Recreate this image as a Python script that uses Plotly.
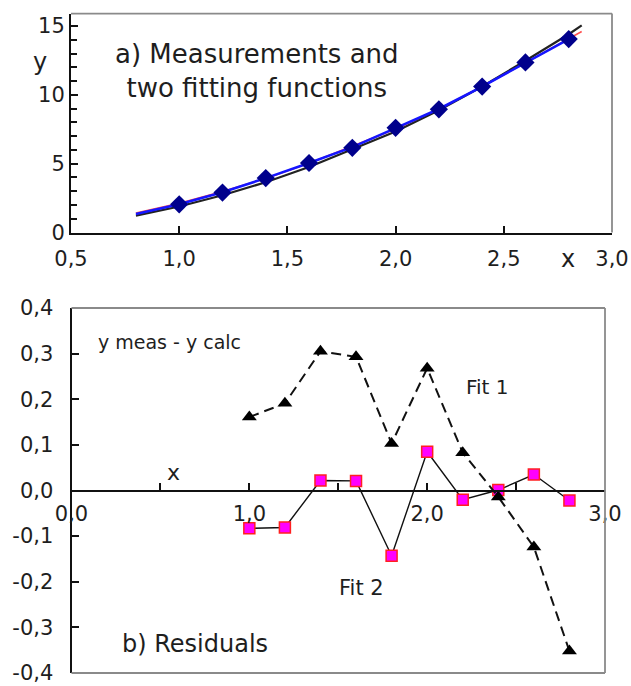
import plotly.graph_objects as go

# ---------------- data ----------------
# a) measurements
x_meas = [1.0, 1.2, 1.4, 1.6, 1.8, 2.0, 2.2, 2.4, 2.6, 2.8]
y_meas = [2.05, 2.90, 3.95, 5.05, 6.15, 7.60, 8.95, 10.60, 12.35, 14.05]

# fitting curves
x_curve = [0.8, 1.0, 1.2, 1.4, 1.6, 1.8, 2.0, 2.2, 2.4, 2.6, 2.8, 2.86]
fit1_curve = [1.22, 1.89, 2.71, 3.65, 4.76, 6.05, 7.33, 8.87, 10.61, 12.47, 14.40, 15.05]
fit2_curve = [1.42, 2.13, 2.98, 3.93, 5.03, 6.29, 7.52, 8.97, 10.60, 12.32, 14.07, 14.60]

x_blue = [0.8, 1.0, 1.2, 1.4, 1.6, 1.8, 2.0, 2.2, 2.4, 2.6, 2.8]
y_blue = [1.35, 2.05, 2.92, 3.95, 5.05, 6.20, 7.58, 8.97, 10.60, 12.33, 14.05]

# b) residuals
res_fit1 = [0.161, 0.191, 0.305, 0.293, 0.103, 0.268, 0.083, -0.014, -0.124, -0.352]
res_fit2 = [-0.083, -0.081, 0.022, 0.021, -0.143, 0.085, -0.020, 0.001, 0.035, -0.022]

# tick labels
top_xticks = [0.5, 1.0, 1.5, 2.0, 2.5, 3.0]
top_xlabels = ["0,5", "1,0", "1,5", "2,0", "2,5", "3,0"]
top_yticks = [0, 5, 10, 15]
top_ylabels = ["0", "5", "10", "15"]
bot_xticks = [0, 1, 2, 3]
bot_xlabels = ["0,0", "1,0", "2,0", "3,0"]
bot_yticks = [-0.4, -0.3, -0.2, -0.1, 0.0, 0.1, 0.2, 0.3, 0.4]
bot_ylabels = ["-0,4", "-0,3", "-0,2", "-0,1", "0,0", "0,1", "0,2", "0,3", "0,4"]

# ---------------- layout helpers ----------------
W, H = 631, 686
FONT = "DejaVu Sans"
TXT = "#1e1e1e"


def px(x):
    return x / W


def py(y):
    return 1 - y / H


top_dom_x = [px(71), px(612)]
top_dom_y = [py(232.5), py(13.6)]
bot_dom_x = [px(71.5), px(605)]
bot_dom_y = [py(673), py(308)]
zero_pos = (bot_dom_y[0] + bot_dom_y[1]) / 2

fig = go.Figure()

# top panel
fig.add_trace(go.Scatter(x=x_curve, y=fit2_curve, mode="lines",
                         line=dict(color="#ff5050", width=1.6), xaxis="x", yaxis="y"))
fig.add_trace(go.Scatter(x=x_curve, y=fit1_curve, mode="lines",
                         line=dict(color="#222222", width=2.2), xaxis="x", yaxis="y"))
fig.add_trace(go.Scatter(x=x_blue, y=y_blue, mode="lines",
                         line=dict(color="#1515ff", width=2.6), xaxis="x", yaxis="y"))
fig.add_trace(go.Scatter(x=x_meas, y=y_meas, mode="markers",
                         marker=dict(symbol="diamond", size=14, color="#00008c",
                                     line=dict(width=0)), xaxis="x", yaxis="y"))

# bottom panel
fig.add_trace(go.Scatter(x=x_meas, y=res_fit2, mode="lines+markers",
                         line=dict(color="#111111", width=1.4),
                         marker=dict(symbol="square", size=11, color="#ff00ff",
                                     line=dict(color="#ff2020", width=1.5)),
                         xaxis="x2", yaxis="y2"))
fig.add_trace(go.Scatter(x=x_meas, y=res_fit1, mode="lines+markers",
                         line=dict(color="#111111", width=2, dash="10px,6px"),
                         marker=dict(symbol="triangle-up", size=13, color="#000000"),
                         xaxis="x2", yaxis="y2"))

axis_common = dict(showgrid=False, zeroline=False, showline=True, linecolor="#111111",
                   linewidth=2, ticks="inside", ticklen=7, tickwidth=1.5,
                   tickcolor="#111111", automargin=False, ticklabeloverflow="allow",
                   tickfont=dict(family=FONT, size=21, color=TXT))

fig.update_layout(
    width=W, height=H, autosize=False,
    margin=dict(l=0, r=0, t=0, b=0),
    paper_bgcolor="white", plot_bgcolor="white",
    showlegend=False,
    xaxis=dict(axis_common, domain=top_dom_x, range=[0.5, 3.0], anchor="y",
               tickmode="array", tickvals=top_xticks, ticktext=top_xlabels,
               ticklabelstandoff=6),
    yaxis=dict(axis_common, domain=top_dom_y, range=[0, 15.9], anchor="x",
               tickmode="array", tickvals=top_yticks, ticktext=top_ylabels,
               ticklabelstandoff=0,
               minor=dict(ticks="inside", dtick=1, ticklen=6, tickwidth=1.5,
                          tickcolor="#111111", showgrid=False)),
    xaxis2=dict(axis_common, domain=bot_dom_x, range=[0, 3.0], anchor="free",
                position=zero_pos, linewidth=1.8,
                tickmode="array", tickvals=bot_xticks, ticktext=bot_xlabels,
                ticklabelstandoff=4,
                minor=dict(ticks="inside", dtick=0.5, ticklen=7, tickwidth=1.5,
                           tickcolor="#111111", showgrid=False)),
    yaxis2=dict(axis_common, domain=bot_dom_y, range=[-0.4, 0.4], anchor="x2",
                tickmode="array", tickvals=bot_yticks, ticktext=bot_ylabels,
                ticklabelstandoff=12),
)

# frame edges (gray)
gray = "#8a8a8a"
frame = [
    ("x domain", "y domain", 0, 1, 1, 1),
    ("x domain", "y domain", 1, 0, 1, 1),
    ("x2 domain", "y2 domain", 0, 1, 1, 1),
    ("x2 domain", "y2 domain", 1, 0, 1, 1),
    ("x2 domain", "y2 domain", 0, 0, 1, 0),
]
for xr, yr, x0, y0, x1, y1 in frame:
    fig.add_shape(type="line", xref=xr, yref=yr, x0=x0, y0=y0, x1=x1, y1=y1,
                  line=dict(color=gray, width=1.8), layer="above")


def note(text, x, y, size, xanchor="center", align="center"):
    fig.add_annotation(text=text, x=px(x), y=py(y), xref="paper", yref="paper",
                       showarrow=False, xanchor=xanchor, yanchor="middle", align=align,
                       font=dict(family=FONT, size=size, color=TXT))


note("a) Measurements and<br>two fitting functions", 257, 71, 26)
note("y", 40, 62, 24)
note("x", 568, 259, 24)
note("y meas - y calc", 96, 342, 19, xanchor="left")
note("Fit 1", 464, 387, 20, xanchor="left")
note("Fit 2", 337, 588, 21, xanchor="left")
note("x", 173, 473, 22)
note("b) Residuals", 120, 644, 24, xanchor="left")

fig.write_html("out.html")
